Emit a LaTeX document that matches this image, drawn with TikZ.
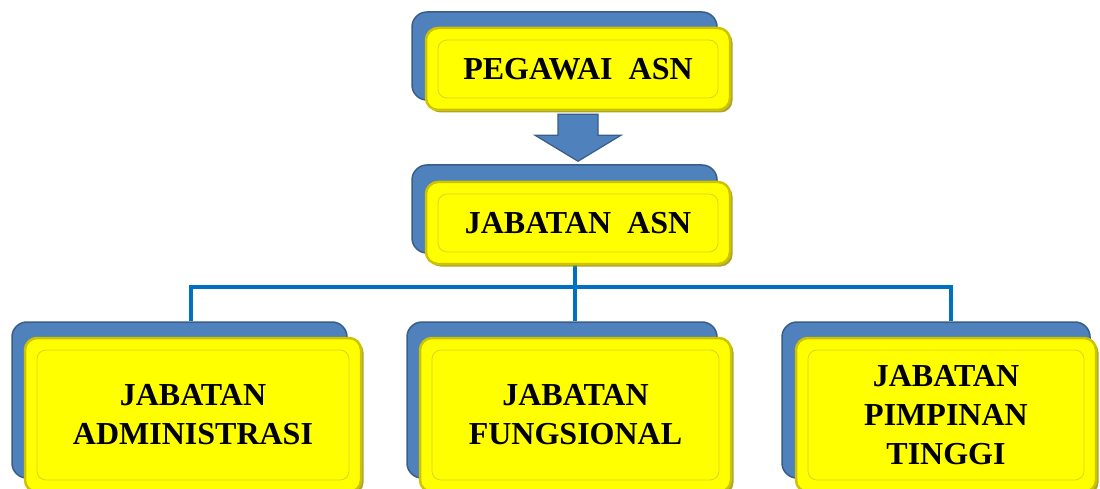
\documentclass[tikz,border=0pt]{standalone}
\usepackage{fontspec}
\setmainfont{Liberation Serif}
\usepackage{xcolor}
\usetikzlibrary{shadows}
\definecolor{backblue}{RGB}{79,129,189}
\definecolor{backedge}{RGB}{56,93,138}
\definecolor{linkblue}{RGB}{0,112,192}
\definecolor{frontyellow}{RGB}{255,255,0}
\definecolor{frontedge}{RGB}{205,195,0}
\definecolor{frontshade}{RGB}{150,140,0}
\definecolor{frontinner}{RGB}{220,210,40}

\begin{document}
\begin{tikzpicture}[x=1pt, y=-1pt,
  backbox/.style={draw=backedge, fill=backblue, line width=1.5pt, rounded corners=15pt, inner sep=0pt},
  frontbox/.style={draw=frontedge, fill=frontyellow, line width=2.5pt, rounded corners=12pt, inner sep=0pt,
    drop shadow={shadow xshift=2.5pt, shadow yshift=-2.5pt, fill=frontshade, opacity=0.8},
    align=center, text=black, font=\fontsize{32}{39}\selectfont\bfseries,
    path picture={\draw[frontinner, line width=0.8pt, rounded corners=9pt]
      ([shift={(12,12)}]path picture bounding box.north west) rectangle
      ([shift={(-12,-12)}]path picture bounding box.south east);}},
  arrowbody/.style={draw=backedge, fill=backblue, line width=1.2pt, line join=miter},
  link/.style={draw=linkblue, line width=4pt},
  ]
\useasboundingbox (0,0) rectangle (1100,489);

% blue boxes behind
\node[backbox, minimum width=305, minimum height=88] (pegawaiback) at (564.5,56) {};
\node[backbox, minimum width=305, minimum height=88] (jabatanback) at (564.5,209) {};
\node[backbox, minimum width=335, minimum height=156] (adminback) at (179.5,400) {};
\node[backbox, minimum width=310, minimum height=156] (fungsiback) at (562,400) {};
\node[backbox, minimum width=308, minimum height=156] (tinggiback) at (936,400) {};

% links
\coordinate (busL) at (191,287);
\coordinate (busM) at (575,287);
\coordinate (busR) at (951,287);
\draw[link] (busM |- jabatanback.south) -- (busM |- fungsiback.north);
\draw[link] (busL |- adminback.north) -- (busL) -- (busR) -- (busR |- tinggiback.north);

% yellow boxes in front
\node[frontbox, minimum width=304, minimum height=82] (pegawai) at (578,69) {PEGAWAI~~ASN};
\node[frontbox, minimum width=304, minimum height=82] (jabatan) at (578,223) {JABATAN~~ASN};
\node[frontbox, minimum width=336, minimum height=154] (admin) at (193,415) {JABATAN\\ADMINISTRASI};
\node[frontbox, minimum width=311, minimum height=154] (fungsi) at (575.5,415) {JABATAN\\FUNGSIONAL};
\node[frontbox, minimum width=300, minimum height=154] (tinggi) at (946,415) {JABATAN\\PIMPINAN\\TINGGI};

% block arrow
\draw[arrowbody] (pegawai.south) ++(-20,3) -- ++(40,0) -- ++(0,21) -- ++(23,0)
  -- ++(-43,26) -- ++(-43,-26) -- ++(23,0) -- cycle;
\end{tikzpicture}
\end{document}
